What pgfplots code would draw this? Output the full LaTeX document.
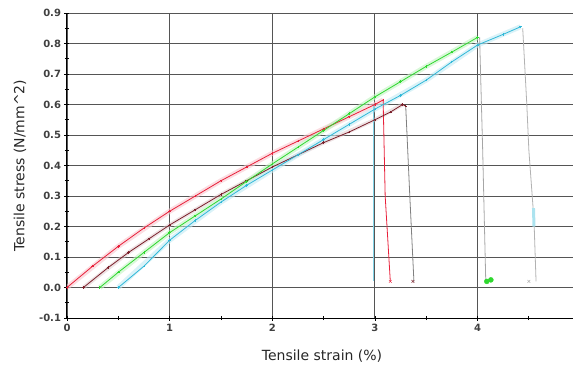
\documentclass[border=0pt]{standalone}
\usepackage{fontspec}
\setmainfont{DejaVu Sans}
\usepackage{pgfplots}
\pgfplotsset{compat=1.18}
\definecolor{cred}{HTML}{E8203A}
\definecolor{cdark}{HTML}{7A1F2A}
\definecolor{cgreen}{HTML}{2FD82F}
\definecolor{ccyan}{HTML}{30B8D8}
\definecolor{gridc}{HTML}{555555}
\begin{document}
\begin{tikzpicture}
\useasboundingbox (-67pt,-49pt) rectangle (506pt,318pt);
\begin{axis}[
  anchor=south west, at={(0pt,0pt)},
  scale only axis, width=506pt, height=305pt,
  xmin=0, xmax=4.93, ymin=-0.1, ymax=0.9,
  xtick={0,1,2,3,4}, minor xtick={0.5,1.5,2.5,3.5,4.5},
  ytick={-0.1,0,0.1,0.2,0.3,0.4,0.5,0.6,0.7,0.8,0.9},
  minor ytick={-0.05,0.05,0.15,0.25,0.35,0.45,0.55,0.65,0.75,0.85},
  yticklabel style={/pgf/number format/.cd,fixed,fixed zerofill,precision=1},
  /pgf/number format/assume math mode=true,
  axis x line*=bottom, axis y line*=left,
  axis line style={black, line width=1pt, -},
  tick align=center, major tick length=5pt, minor tick length=4pt,
  tick style={black, line width=0.8pt},
  xmajorgrids, ymajorgrids,
  major grid style={gridc, line width=0.9pt},
  tick label style={font=\fontsize{10}{12}\selectfont\bfseries, text=black!75},
  label style={font=\fontsize{14}{16}\selectfont, text=black!85},
  xlabel={Tensile strain (\%)}, ylabel={Tensile stress (N/mm\^{}2)},
  xlabel style={at={(axis description cs:0.504,0)}, anchor=center, yshift=-38pt},
  ylabel style={at={(axis description cs:-0.0929,0.5)}, anchor=center, rotate=0},
  clip=true,
]
% halos
\addplot[cred!25, line width=5pt, opacity=0.6] coordinates {(0,0)(0.5,0.135)(1,0.25)(1.5,0.35)(2,0.44)(2.5,0.52)(3,0.6)(3.08,0.615)};
\addplot[cdark!25, line width=4pt, opacity=0.5] coordinates {(0.16,0)(0.6,0.115)(1,0.205)(1.5,0.305)(2,0.395)(2.5,0.475)(3,0.55)(3.27,0.6)};
\addplot[cgreen!30, line width=5pt, opacity=0.6] coordinates {(0.32,0)(0.75,0.115)(1,0.18)(1.5,0.29)(2,0.405)(2.5,0.515)(3,0.625)(3.5,0.725)(4,0.82)};
\addplot[ccyan!30, line width=5pt, opacity=0.6] coordinates {(0.5,0)(1,0.155)(1.5,0.28)(2,0.385)(2.5,0.485)(3,0.585)(3.5,0.68)(4,0.795)(4.42,0.855)};
% drop lines
\addplot[ccyan!60, line width=1pt] coordinates {(2.99,0.6)(2.99,0.02)};
\addplot[cred, line width=0.8pt] coordinates {(3.08,0.615)(3.1,0.3)(3.15,0.02)};
\addplot[gray, line width=0.8pt] coordinates {(3.3,0.595)(3.34,0.3)(3.38,0.02)};
\addplot[gray!70, line width=0.8pt] coordinates {(4.02,0.82)(4.05,0.45)(4.08,0.02)};
\addplot[gray!60, line width=0.8pt] coordinates {(4.44,0.85)(4.48,0.6)(4.5,0.45)(4.55,0.22)(4.57,0.02)};
\addplot[ccyan!40, line width=3pt] coordinates {(4.545,0.26)(4.55,0.2)};
% main curves
\addplot[cred, line width=0.8pt, mark=+, mark size=1.2pt] coordinates {(0,0)(0.25,0.07)(0.5,0.135)(0.75,0.195)(1,0.25)(1.25,0.3)(1.5,0.35)(1.75,0.395)(2,0.44)(2.25,0.48)(2.5,0.52)(2.75,0.56)(3,0.6)(3.08,0.615)};
\addplot[cdark, line width=0.8pt, mark=+, mark size=1.2pt] coordinates {(0.16,0)(0.4,0.065)(0.6,0.115)(0.8,0.16)(1,0.205)(1.25,0.255)(1.5,0.305)(1.75,0.35)(2,0.395)(2.25,0.435)(2.5,0.475)(2.75,0.51)(3,0.55)(3.15,0.575)(3.27,0.6)(3.3,0.595)};
\addplot[cgreen, line width=0.8pt, mark=+, mark size=1.2pt] coordinates {(0.32,0)(0.5,0.05)(0.75,0.115)(1,0.18)(1.25,0.235)(1.5,0.29)(1.75,0.348)(2,0.405)(2.25,0.46)(2.5,0.515)(2.75,0.57)(3,0.625)(3.25,0.675)(3.5,0.725)(3.75,0.772)(4,0.82)};
\addplot[ccyan, line width=0.8pt, mark=+, mark size=1.2pt] coordinates {(0.5,0)(0.75,0.07)(1,0.155)(1.25,0.22)(1.5,0.28)(1.75,0.335)(2,0.385)(2.25,0.435)(2.5,0.485)(2.75,0.535)(3,0.585)(3.25,0.63)(3.5,0.68)(3.75,0.74)(4,0.795)(4.25,0.83)(4.42,0.855)};
% end marks
\addplot[only marks, cred, mark=x, mark size=2pt] coordinates {(3.15,0.02)};
\addplot[only marks, cdark, mark=x, mark size=2pt] coordinates {(3.37,0.02)};
\addplot[only marks, cgreen, mark=*, mark size=2.5pt] coordinates {(4.09,0.02)(4.13,0.025)};
\addplot[only marks, gray!60, mark=x, mark size=2pt] coordinates {(4.5,0.02)};
\end{axis}
\end{tikzpicture}
\end{document}
